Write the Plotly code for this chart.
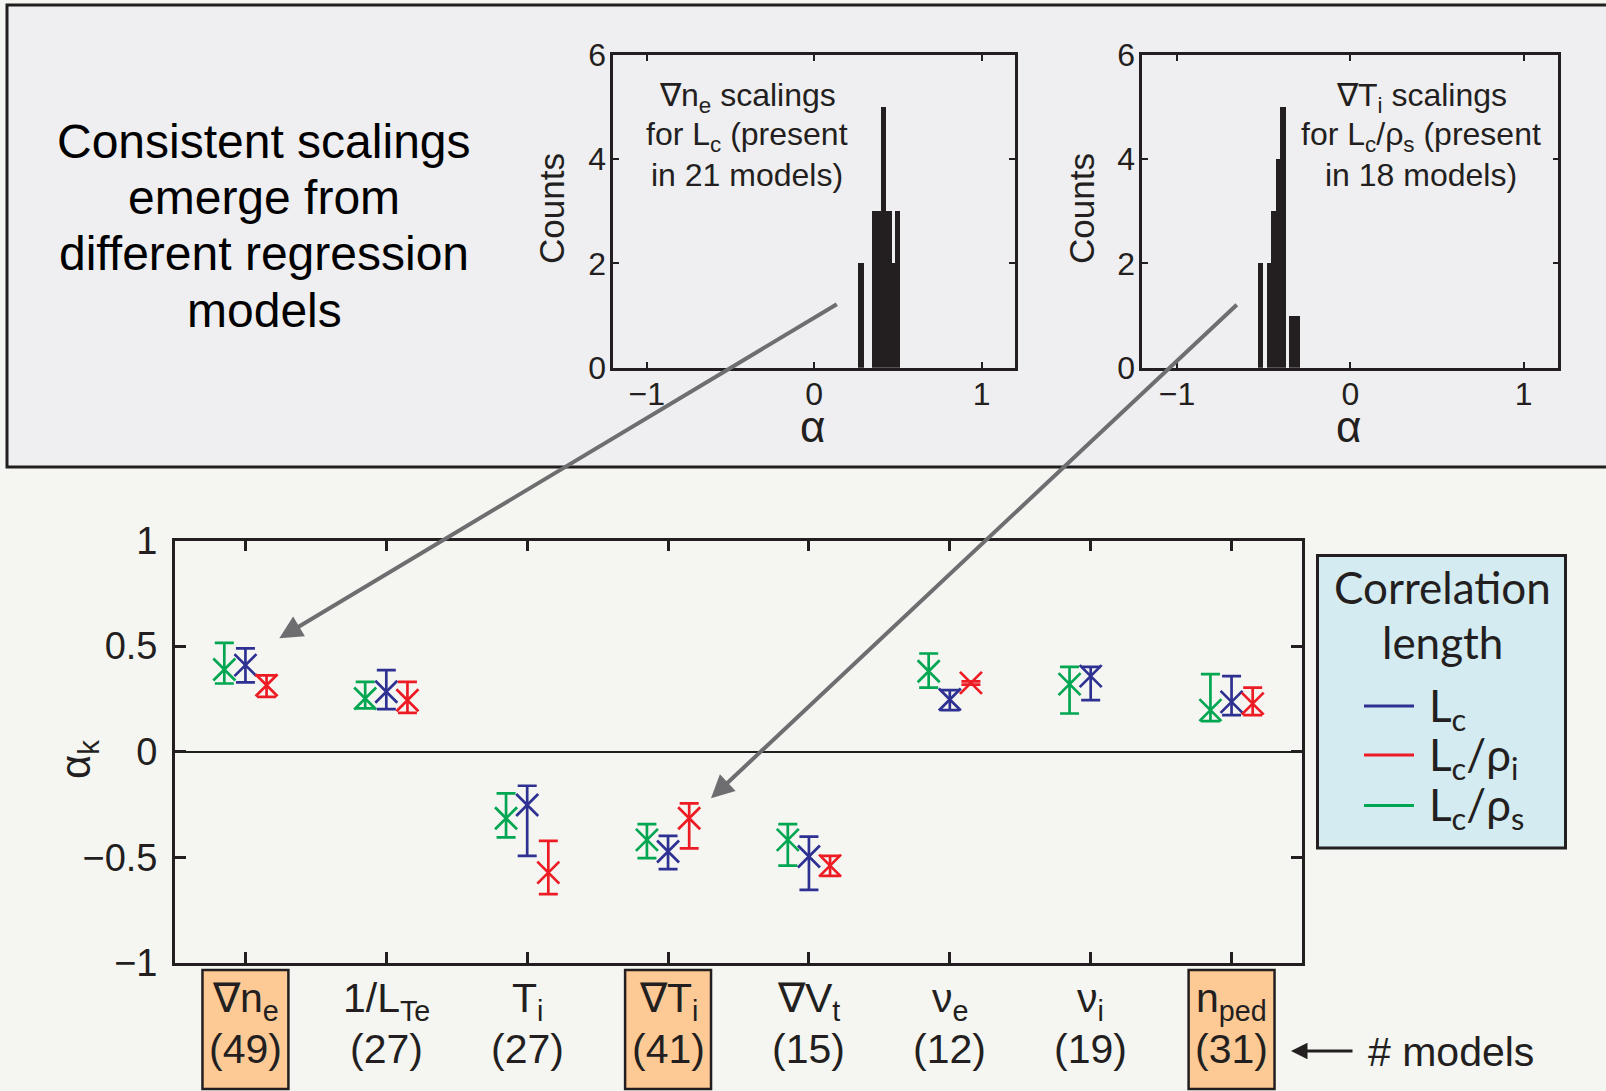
import plotly.graph_objects as go

W, H = 1606, 1091

# ---------------- data ----------------
categories = ["∇n<sub>e</sub>", "1/L<sub>Te</sub>", "T<sub>i</sub>", "∇T<sub>i</sub>",
              "∇V<sub>t</sub>", "ν<sub>e</sub>", "ν<sub>i</sub>", "n<sub>ped</sub>"]
model_counts = [49, 27, 27, 41, 15, 12, 19, 31]
highlighted = [True, False, False, True, False, False, False, True]

# alpha_k for L_c
lc_val = [0.410, 0.284, -0.252, -0.472, -0.496, 0.247, 0.358, 0.236]
lc_hi = [0.489, 0.386, -0.161, -0.398, -0.402, 0.292, 0.402, 0.358]
lc_lo = [0.328, 0.202, -0.493, -0.556, -0.654, 0.197, 0.244, 0.173]
# alpha_k for L_c/rho_i
lcri_val = [0.315, 0.244, -0.572, -0.315, -0.539, 0.326, None, 0.228]
lcri_hi = [0.362, 0.331, -0.422, -0.244, -0.493, 0.333, None, 0.304]
lcri_lo = [0.260, 0.184, -0.674, -0.457, -0.588, 0.318, None, 0.173]
# alpha_k for L_c/rho_s
lcrs_val = [0.389, 0.252, -0.315, -0.417, -0.417, 0.381, 0.320, 0.197]
lcrs_hi = [0.515, 0.331, -0.197, -0.343, -0.343, 0.465, 0.402, 0.367]
lcrs_lo = [0.323, 0.205, -0.405, -0.504, -0.539, 0.304, 0.181, 0.145]

# histogram of grad n_e scaling exponents for L_c (21 models)
hist_ne_left = [0.264, 0.347, 0.373, 0.399, 0.433, 0.467, 0.483]
hist_ne_right = [0.300, 0.373, 0.399, 0.433, 0.467, 0.483, 0.517]
hist_ne_counts = [2, 3, 3, 5, 3, 2, 3]
# histogram of grad T_i scaling exponents for L_c/rho_s (18 models)
hist_ti_left = [-0.531, -0.481, -0.454, -0.429, -0.404, -0.352, -0.321]
hist_ti_right = [-0.500, -0.454, -0.429, -0.404, -0.371, -0.321, -0.290]
hist_ti_counts = [2, 2, 3, 4, 5, 1, 1]

# ---------------- style ----------------
BLUE, RED, GREEN = "#2e3192", "#ed1c24", "#00a651"
INK = "#231f20"
FONT = "Liberation Sans, Arial, sans-serif"
LFONT = "Lato, sans-serif"
PAGE_BG = "#f5f6f1"
PANEL_BG = "#efeef0"
ARROW = "#6e6e70"


def px(x):
    return x / W


def py(y):
    return 1 - y / H


series = [
    dict(label="L<sub>c</sub>", color=BLUE, offset=0.0, val=lc_val, hi=lc_hi, lo=lc_lo),
    dict(label="L<sub>c</sub>/ρ<sub>i</sub>", color=RED, offset=0.15, val=lcri_val, hi=lcri_hi, lo=lcri_lo),
    dict(label="L<sub>c</sub>/ρ<sub>s</sub>", color=GREEN, offset=-0.15, val=lcrs_val, hi=lcrs_hi, lo=lcrs_lo),
]

fig = go.Figure()

for s in [series[2], series[0], series[1]]:
    xs = [i + 1 + s["offset"] for i in range(len(categories))]
    plus = [(h - v) if v is not None else None for v, h in zip(s["val"], s["hi"])]
    minus = [(v - l) if v is not None else None for v, l in zip(s["val"], s["lo"])]
    fig.add_trace(go.Scatter(
        x=xs, y=s["val"], mode="markers", showlegend=False,
        marker=dict(symbol="x-thin", size=22, color=s["color"],
                    line=dict(color=s["color"], width=2.7)),
        error_y=dict(type="data", symmetric=False, array=plus, arrayminus=minus,
                     color=s["color"], thickness=2.7, width=9.5),
        xaxis="x", yaxis="y",
    ))

for left, right, counts, ax_ in [(hist_ne_left, hist_ne_right, hist_ne_counts, "2"),
                                  (hist_ti_left, hist_ti_right, hist_ti_counts, "3")]:
    fig.add_trace(go.Bar(
        x=[(l + r) / 2 for l, r in zip(left, right)], y=counts,
        width=[r - l for l, r in zip(left, right)],
        marker=dict(color=INK, line=dict(width=0)), showlegend=False,
        xaxis="x" + ax_, yaxis="y" + ax_,
    ))

axis_common = dict(showgrid=False, zeroline=False, showline=True, linecolor=INK,
                   mirror="ticks", ticks="inside", tickcolor=INK, automargin=False,
                   tickfont=dict(family=FONT, size=38, color=INK))

layout = dict(
    template="none",
    width=W, height=H, margin=dict(l=0, r=0, t=0, b=0, pad=0, autoexpand=False),
    paper_bgcolor=PAGE_BG, plot_bgcolor="rgba(0,0,0,0)",
    showlegend=False, bargap=0,
    xaxis=dict(**axis_common, domain=[px(175), px(1302)], range=[0.5, 8.5],
               tickvals=list(range(1, 9)), showticklabels=False,
               ticklen=11, tickwidth=2.5, linewidth=2.8, anchor="y"),
    yaxis=dict(**{**axis_common, "zeroline": True}, zerolinecolor=INK, zerolinewidth=2.2,
               domain=[py(963), py(540.5)], range=[-1, 1],
               tickvals=[-1, -0.5, 0, 0.5, 1], ticktext=["−1", "−0.5", "0", "0.5", "1"],
               ticklen=11, tickwidth=2.5, linewidth=2.8, ticklabelstandoff=7, anchor="x"),
)
for n, (x0, x1) in [("2", (613.3, 1015)), ("3", (1142.3, 1558.3))]:
    layout["xaxis" + n] = dict(**{**axis_common, "tickfont": dict(family=FONT, size=32, color=INK)},
                               domain=[px(x0), px(x1)], range=[-1.2, 1.2],
                               tickvals=[-1, 0, 1], ticktext=["−1", "0", "1"],
                               ticklen=6, tickwidth=2.2, linewidth=2.6,
                               ticklabelstandoff=-4, anchor="y" + n)
    layout["yaxis" + n] = dict(**{**axis_common, "tickfont": dict(family=FONT, size=32, color=INK)},
                               domain=[py(367.7), py(55)], range=[0, 6],
                               tickvals=[0, 2, 4, 6], ticklen=6, tickwidth=2.2, linewidth=2.6,
                               ticklabelstandoff=-2, anchor="x" + n)
fig.update_layout(**layout)

shapes = []
annotations = []

# top panel
shapes.append(dict(type="rect", xref="paper", yref="paper", x0=px(7), x1=px(1620),
                   y0=py(467), y1=py(5), fillcolor=PANEL_BG,
                   line=dict(color=INK, width=3), layer="below"))

# big text in top panel
for txt, yy in zip(["Consistent scalings", "emerge from", "different regression", "models"],
                   [141, 197.5, 254, 310.5]):
    annotations.append(dict(text=txt, xref="paper", yref="paper", x=px(264), y=py(yy),
                            xanchor="center", yanchor="middle", showarrow=False,
                            font=dict(family=FONT, size=48, color="black")))

# histogram inner texts
hist_texts = [
    (747, ["∇n<sub>e</sub> scalings", "for L<sub>c</sub> (present", "in 21 models)"]),
    (1421, ["∇T<sub>i</sub> scalings", "for L<sub>c</sub>/ρ<sub>s</sub> (present", "in 18 models)"]),
]
for xx, lines in hist_texts:
    for txt, yy in zip(lines, [97, 136, 175]):
        annotations.append(dict(text=txt, xref="paper", yref="paper", x=px(xx), y=py(yy),
                                xanchor="center", yanchor="middle", showarrow=False,
                                font=dict(family=FONT, size=32, color=INK)))

# histogram axis titles
for xx in [552, 1082]:
    annotations.append(dict(text="Counts", xref="paper", yref="paper", x=px(xx), y=py(209),
                            xanchor="center", yanchor="middle", showarrow=False, textangle=-90,
                            font=dict(family=FONT, size=35, color=INK)))
for xx in [812, 1348]:
    annotations.append(dict(text="α", xref="paper", yref="paper", x=px(xx), y=py(426),
                            xanchor="center", yanchor="middle", showarrow=False,
                            font=dict(family=FONT, size=44, color=INK)))

# main y title
annotations.append(dict(text="α<sub>k</sub>", xref="paper", yref="paper", x=px(78), y=py(760),
                        xanchor="center", yanchor="middle", showarrow=False, textangle=-90,
                        font=dict(family=FONT, size=42, color=INK)))

# category labels with highlight boxes
for i, (cat, cnt, hl) in enumerate(zip(categories, model_counts, highlighted)):
    xc = i + 1
    if hl:
        shapes.append(dict(type="rect", xref="x", yref="paper", x0=xc - 0.305, x1=xc + 0.305,
                           y0=py(1089), y1=py(970), fillcolor="#fdca96",
                           line=dict(color=INK, width=2.5), layer="below"))
    annotations.append(dict(text=cat, xref="x", yref="paper", x=xc, y=py(1001),
                            xanchor="center", yanchor="middle", showarrow=False,
                            font=dict(family=FONT, size=41, color=INK)))
    annotations.append(dict(text=f"({cnt})", xref="x", yref="paper", x=xc, y=py(1049),
                            xanchor="center", yanchor="middle", showarrow=False,
                            font=dict(family=FONT, size=41, color=INK)))

# "# models" pointer
annotations.append(dict(text="", xref="paper", yref="paper", x=px(1291), y=py(1051),
                        ax=63, ay=0, axref="pixel", ayref="pixel", showarrow=True,
                        arrowhead=2, arrowsize=1.1, arrowwidth=3, arrowcolor=INK))
annotations.append(dict(text="# models", xref="paper", yref="paper", x=px(1366), y=py(1052),
                        xanchor="left", yanchor="middle", showarrow=False,
                        font=dict(family=FONT, size=41, color=INK)))

# gray arrows from histograms to the main plot
annotations.append(dict(text="", xref="paper", yref="paper", x=px(279.3), y=py(638.3),
                        ax=838.3 - 279.3, ay=303.3 - 638.3, axref="pixel", ayref="pixel",
                        showarrow=True, arrowhead=2, arrowsize=1.15, arrowwidth=4, arrowcolor=ARROW))
annotations.append(dict(text="", xref="paper", yref="paper", x=px(711), y=py(798.3),
                        ax=1238.3 - 711, ay=303.3 - 798.3, axref="pixel", ayref="pixel",
                        showarrow=True, arrowhead=2, arrowsize=1.15, arrowwidth=4, arrowcolor=ARROW))

# legend box
shapes.append(dict(type="rect", xref="paper", yref="paper", x0=px(1317.5), x1=px(1565.5),
                   y0=py(848), y1=py(555.5), fillcolor="#d4ebf2",
                   line=dict(color=INK, width=3), layer="below"))
annotations.append(dict(text="Correlation", xref="paper", yref="paper", x=px(1442), y=py(587),
                        xanchor="center", yanchor="middle", showarrow=False,
                        font=dict(family=LFONT, size=44, color=INK)))
annotations.append(dict(text="length", xref="paper", yref="paper", x=px(1442), y=py(642),
                        xanchor="center", yanchor="middle", showarrow=False,
                        font=dict(family=LFONT, size=44, color=INK)))
for s, yy in zip(series, [706, 755, 805.5]):
    shapes.append(dict(type="line", xref="paper", yref="paper", x0=px(1364), x1=px(1414),
                       y0=py(yy), y1=py(yy), line=dict(color=s["color"], width=3)))
    annotations.append(dict(text=s["label"], xref="paper", yref="paper", x=px(1427), y=py(yy + 2),
                            xanchor="left", yanchor="middle", showarrow=False,
                            font=dict(family=LFONT, size=44, color=INK)))

fig.update_layout(shapes=shapes, annotations=annotations)
fig.write_html("out.html")
